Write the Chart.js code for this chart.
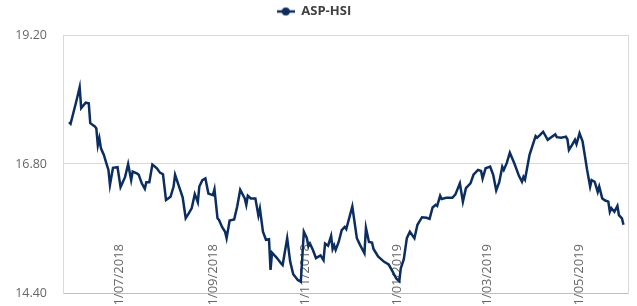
<!DOCTYPE html>
<html>
<head>
<meta charset="utf-8">
<script src="https://cdn.jsdelivr.net/npm/chart.js@4/dist/chart.umd.min.js"></script>
<style>
  html, body { margin: 0; padding: 0; background: #fff; }
  #wrap { width: 637px; height: 306px; }
</style>
</head>
<body>
<div id="wrap"><canvas id="chart"></canvas></div>
<script>
const dates = [
  '2018-05-29','2018-05-30','2018-06-03','2018-06-05','2018-06-06','2018-06-09','2018-06-11','2018-06-12',
  '2018-06-15','2018-06-16','2018-06-17','2018-06-18','2018-06-19','2018-06-20','2018-06-21','2018-06-22',
  '2018-06-23','2018-06-24','2018-06-25','2018-06-27','2018-06-30',
  '2018-07-02','2018-07-05','2018-07-07','2018-07-09','2018-07-10','2018-07-13','2018-07-14','2018-07-16',
  '2018-07-18','2018-07-19','2018-07-21','2018-07-23','2018-07-26','2018-07-28','2018-07-30',
  '2018-08-01','2018-08-04','2018-08-06','2018-08-07','2018-08-12','2018-08-14','2018-08-16','2018-08-18',
  '2018-08-20','2018-08-22','2018-08-23','2018-08-25','2018-08-27','2018-08-29',
  '2018-09-01','2018-09-02','2018-09-04','2018-09-05','2018-09-07','2018-09-09','2018-09-10','2018-09-12',
  '2018-09-15','2018-09-17','2018-09-19','2018-09-22','2018-09-23','2018-09-24','2018-09-26','2018-09-29',
  '2018-10-01','2018-10-02','2018-10-04','2018-10-06','2018-10-08','2018-10-09','2018-10-10','2018-10-13',
  '2018-10-16','2018-10-17','2018-10-20','2018-10-22','2018-10-24','2018-10-27','2018-10-29','2018-10-31',
  '2018-11-02','2018-11-03','2018-11-04','2018-11-06','2018-11-08','2018-11-11','2018-11-13','2018-11-14',
  '2018-11-16','2018-11-18','2018-11-19','2018-11-20','2018-11-21','2018-11-23','2018-11-25','2018-11-27',
  '2018-11-28',
  '2018-12-02','2018-12-05','2018-12-07','2018-12-10','2018-12-11','2018-12-13','2018-12-15','2018-12-16',
  '2018-12-19','2018-12-23','2018-12-26','2018-12-28','2018-12-31',
  '2019-01-02','2019-01-03','2019-01-05','2019-01-07','2019-01-09','2019-01-12','2019-01-14','2019-01-17',
  '2019-01-20','2019-01-22','2019-01-24','2019-01-26','2019-01-27','2019-01-29','2019-01-30',
  '2019-02-02','2019-02-06','2019-02-08','2019-02-11','2019-02-13','2019-02-15','2019-02-18','2019-02-20',
  '2019-02-23','2019-02-25','2019-02-26','2019-02-28',
  '2019-03-03','2019-03-05','2019-03-07','2019-03-09','2019-03-11','2019-03-12','2019-03-14','2019-03-16',
  '2019-03-19','2019-03-22','2019-03-24','2019-03-25','2019-03-26','2019-03-29',
  '2019-04-02','2019-04-03','2019-04-05','2019-04-07','2019-04-10','2019-04-13','2019-04-15','2019-04-16',
  '2019-04-19','2019-04-22','2019-04-23','2019-04-24','2019-04-26','2019-04-28','2019-04-29',
  '2019-05-01','2019-05-03','2019-05-05','2019-05-06','2019-05-08','2019-05-09','2019-05-11','2019-05-13',
  '2019-05-14','2019-05-16','2019-05-18','2019-05-20','2019-05-21','2019-05-22','2019-05-24','2019-05-26',
  '2019-05-27','2019-05-29','2019-05-30'
];

const aspHsi = [
  17.58, 17.55, 17.99, 18.23, 17.84, 17.94, 17.93, 17.56,
  17.50, 17.46, 17.15, 17.28, 17.10, 17.03, 16.97, 16.87,
  16.78, 16.69, 16.41, 16.73, 16.74,
  16.37, 16.56, 16.80, 16.50, 16.66, 16.62, 16.60, 16.44,
  16.34, 16.46, 16.46, 16.79, 16.72, 16.64, 16.61,
  16.13, 16.19, 16.38, 16.60, 16.18, 15.79, 15.88, 15.98,
  16.24, 16.09, 16.38, 16.50, 16.53, 16.25,
  16.22, 16.33, 15.79, 15.76, 15.63, 15.54, 15.42, 15.75,
  15.77, 16.01, 16.32, 16.16, 16.04, 16.21, 16.16, 16.16,
  15.84, 15.97, 15.54, 15.39, 15.40, 14.83, 15.15, 15.06,
  14.95, 14.92, 15.42, 14.98, 14.75, 14.64, 14.61, 15.54,
  15.42, 15.27, 15.32, 15.20, 15.05, 15.10, 15.01, 15.32,
  15.28, 15.46, 15.22, 15.29, 15.20, 15.35, 15.57, 15.63,
  15.59,
  16.01, 15.42, 15.30, 15.14, 15.61, 15.35, 15.34, 15.22,
  15.08, 14.98, 14.93, 14.83, 14.67,
  14.62, 14.86, 15.03, 15.42, 15.54, 15.42, 15.67, 15.81,
  15.80, 15.78, 15.99, 16.04, 16.02, 16.21, 16.15,
  16.17, 16.17, 16.23, 16.44, 16.10, 16.35, 16.44, 16.60,
  16.69, 16.67, 16.53, 16.72,
  16.75, 16.60, 16.31, 16.46, 16.75, 16.69, 16.82, 17.01,
  16.81, 16.58, 16.47, 16.56, 16.51, 16.97,
  17.32, 17.29, 17.34, 17.40, 17.25, 17.31, 17.35, 17.30,
  17.29, 17.31, 17.26, 17.06, 17.15, 17.25, 17.17,
  17.37, 17.22, 16.87, 16.69, 16.38, 16.50, 16.47, 16.28,
  16.38, 16.16, 16.12, 16.10, 15.91, 15.98, 15.91, 16.02,
  15.85, 15.79, 15.67
];

const tickLabels = ['1/07/2018', '1/09/2018', '1/11/2018', '1/01/2019', '1/03/2019', '1/05/2019'];
const yTicks = [14.40, 16.80, 19.20];
const axisStart = '2018-05-25';
const axisEnd = '2019-06-02';

const lineColor = '#0c2d5f';
const labelFont = 'Open Sans';

// dates -> day numbers so the x axis is a true date axis
const dayNum = s => Date.parse(s) / 864e5;
const dmyToDay = s => {
  const [d, m, y] = s.split('/');
  return dayNum(`${y}-${m}-${d.padStart(2, '0')}`);
};
const tickDays = tickLabels.map(dmyToDay);
const points = dates.map((d, i) => ({ x: dayNum(d), y: aspHsi[i] }));

// legend marker: line with a dot in the middle
const marker = document.createElement('canvas');
marker.width = 18;
marker.height = 10;
const mctx = marker.getContext('2d');
mctx.strokeStyle = lineColor;
mctx.lineWidth = 2.5;
mctx.beginPath();
mctx.moveTo(0, 5);
mctx.lineTo(18, 5);
mctx.stroke();
mctx.fillStyle = lineColor;
mctx.beginPath();
mctx.arc(9, 5, 4, 0, Math.PI * 2);
mctx.fill();

const legendGap = {
  id: 'legendGap',
  beforeInit(chart) {
    const fit = chart.legend.fit;
    chart.legend.fit = function () {
      fit.bind(chart.legend)();
      this.height += 7;
    };
  }
};

new Chart(document.getElementById('chart'), {
  type: 'line',
  data: {
    datasets: [{
      label: 'ASP-HSI',
      data: points,
      borderColor: lineColor,
      backgroundColor: lineColor,
      borderWidth: 2.5,
      pointRadius: 0,
      tension: 0,
      fill: false,
      yAxisID: 'y'
    }]
  },
  options: {
    responsive: true,
    maintainAspectRatio: false,
    animation: false,
    devicePixelRatio: 1,
    layout: { padding: { left: 0, right: 9, top: 0, bottom: 13 } },
    plugins: {
      legend: {
        position: 'top',
        labels: {
          usePointStyle: true,
          pointStyle: marker,
          pointStyleWidth: 18,
          padding: 5,
          color: '#404040',
          font: { family: labelFont, size: 13, weight: 'bold' }
        }
      },
      tooltip: { enabled: false }
    },
    scales: {
      x: {
        type: 'linear',
        // axis sits on the 14.40 line; labels stand up inside the plot
        position: { y: 14.4 },
        min: dayNum(axisStart),
        max: dayNum(axisEnd),
        grid: { display: false, drawTicks: false },
        border: { display: true, color: '#bfbfbf' },
        afterBuildTicks: s => { s.ticks = tickDays.map(v => ({ value: v })); },
        ticks: {
          autoSkip: false,
          minRotation: 90,
          maxRotation: 90,
          padding: -49,
          color: '#666666',
          font: { family: labelFont, size: 13 },
          callback: (v, i) => tickLabels[i]
        }
      },
      y: {
        min: 14.4,
        max: 19.2,
        afterBuildTicks: s => { s.ticks = yTicks.map(v => ({ value: v })); },
        afterFit: s => { s.width = 63; },
        // invisible tick marks give the gap between labels and the plot
        grid: { color: '#d9d9d9', drawTicks: true, tickLength: 16, tickColor: 'rgba(0,0,0,0)' },
        border: { display: true, color: '#d9d9d9' },
        ticks: {
          padding: 0,
          color: '#666666',
          font: { family: labelFont, size: 12.5 },
          callback: v => v.toFixed(2)
        }
      },
      y2: {
        position: 'right',
        min: 14.4,
        max: 19.2,
        afterFit: s => { s.width = 0; },
        grid: { drawOnChartArea: false, drawTicks: false },
        border: { display: true, color: '#d9d9d9' },
        ticks: { display: false }
      }
    }
  },
  plugins: [legendGap]
});
</script>
</body>
</html>
